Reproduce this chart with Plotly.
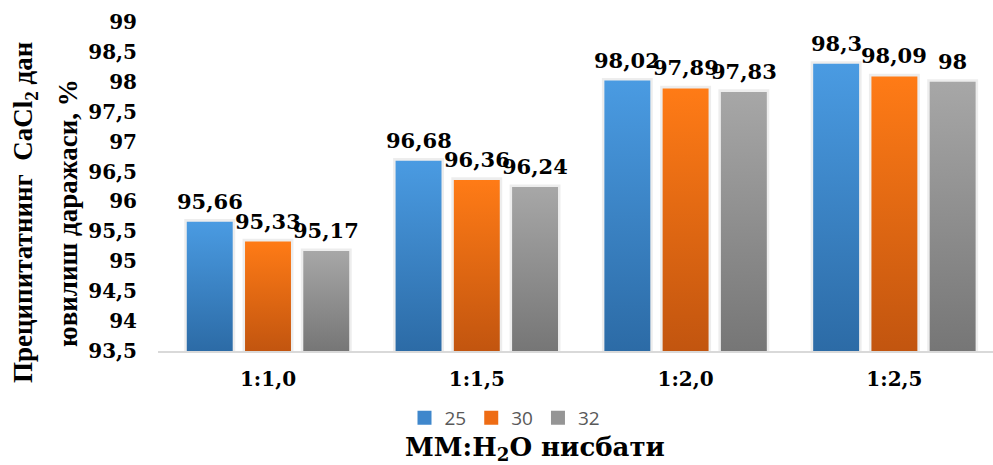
import plotly.graph_objects as go

# ---- data -------------------------------------------------------------
categories = ["1:1,0", "1:1,5", "1:2,0", "1:2,5"]
series_names = ["25", "30", "32"]
values_25 = [95.66, 96.68, 98.02, 98.30]
values_30 = [95.33, 96.36, 97.89, 98.09]
values_32 = [95.17, 96.24, 97.83, 98.00]
y_ticks = [93.5, 94, 94.5, 95, 95.5, 96, 96.5, 97, 97.5, 98, 98.5, 99]
y_tick_labels = ["93,5", "94", "94,5", "95", "95,5", "96", "96,5",
                 "97", "97,5", "98", "98,5", "99"]

series_values = [values_25, values_30, values_32]

# ---- styling ----------------------------------------------------------
# (bottom colour, top colour, legend colour) for each series
gradients = [
    ("#2C6BA6", "#4A9BE2", "#3F87CC"),
    ("#C2550F", "#FF7B16", "#EE6C14"),
    ("#767676", "#A7A7A7", "#959595"),
]
BASE = 93.5          # bars start at the bottom of the value axis
BAR_W = 0.22         # bar width in category units
SLOT = 0.279         # distance between bar centres inside a group
SERIF = "DejaVu Serif"
W, H = 993, 465
M_L, M_R, M_T, M_B = 158, 0, 22, 114


def fmt(v):
    return f"{v:g}".replace(".", ",")


fig = go.Figure()

n_series = len(series_values)
for k, (vals, name) in enumerate(zip(series_values, series_names)):
    dark, light, mid = gradients[k]
    offset = (k - (n_series - 1) / 2) * SLOT
    for i, v in enumerate(vals):
        xc = i + offset
        x0, x1 = xc - BAR_W / 2, xc + BAR_W / 2
        # soft shadow behind the bar
        sx, sy = 0.012, 0.045
        fig.add_trace(go.Scatter(
            x=[x0 - sx, x1 + sx, x1 + sx, x0 - sx, x0 - sx],
            y=[BASE, BASE, v + sy, v + sy, BASE],
            mode="lines", fill="toself",
            fillcolor="rgba(0,0,0,0.07)",
            line=dict(width=0, color="rgba(0,0,0,0)"),
            hoverinfo="skip", showlegend=False,
        ))
        # gradient-filled bar
        fig.add_trace(go.Scatter(
            x=[x0, x1, x1, x0, x0],
            y=[BASE, BASE, v, v, BASE],
            mode="lines", fill="toself",
            fillgradient=dict(type="vertical",
                              colorscale=[[0, dark], [1, light]]),
            line=dict(width=0, color="rgba(0,0,0,0)"),
            name=name, legendgroup=name,
            hovertemplate=f"{categories[i]}<br>{name}: {fmt(v)}<extra></extra>",
            showlegend=False,
        ))
        # value label above the bar
        fig.add_annotation(
            x=xc, y=v, xref="x", yref="y",
            text=fmt(v), showarrow=False,
            yanchor="bottom", yshift=6,
            font=dict(family=SERIF, size=21, color="#000000", weight="bold"),
        )
    # legend entry
    fig.add_trace(go.Scatter(
        x=[None], y=[None], mode="markers",
        marker=dict(symbol="square", size=14, color=mid),
        name=name, legendgroup=name, showlegend=True,
    ))

plot_w = W - M_L - M_R
cat_px = 208.8
x_start = -(268 - M_L) / cat_px
x_end = x_start + plot_w / cat_px

fig.update_xaxes(
    range=[x_start, x_end],
    tickmode="array",
    tickvals=list(range(len(categories))),
    ticktext=categories,
    showgrid=False, zeroline=False,
    showline=True, linecolor="#D9D9D9", linewidth=1.5,
    ticks="", ticklabelstandoff=9,
    tickfont=dict(family=SERIF, size=20, color="#000000", weight="bold"),
    fixedrange=True,
)
fig.update_yaxes(
    range=[93.5, 99],
    tickmode="array",
    tickvals=y_ticks,
    ticktext=y_tick_labels,
    showgrid=False, zeroline=False, showline=False,
    ticks="", ticklabelstandoff=20,
    tickfont=dict(family=SERIF, size=20, color="#000000", weight="bold"),
    fixedrange=True,
)

plot_h = H - M_T - M_B


def px_x(p):
    return (p - M_L) / plot_w


def px_y(p):
    return (H - M_B - p) / plot_h


# axis titles
fig.add_annotation(
    x=px_x(535), y=px_y(448), xref="paper", yref="paper",
    text="ММ:H<sub>2</sub>O нисбати", showarrow=False,
    xanchor="center", yanchor="middle",
    font=dict(family=SERIF, size=26, color="#000000", weight="bold"),
)
fig.add_annotation(
    x=px_x(25), y=px_y(213), xref="paper", yref="paper",
    text="Преципитатнинг  CaCl<sub>2</sub> дан", showarrow=False,
    textangle=-90, xanchor="center", yanchor="middle",
    font=dict(family="Liberation Serif", size=27, color="#000000", weight="bold"),
)
fig.add_annotation(
    x=px_x(68), y=px_y(213), xref="paper", yref="paper",
    text="ювилиш даражаси, %", showarrow=False,
    textangle=-90, xanchor="center", yanchor="middle",
    font=dict(family="Liberation Serif", size=27, color="#000000", weight="bold"),
)

fig.update_layout(
    width=W, height=H,
    margin=dict(l=M_L, r=M_R, t=M_T, b=M_B, autoexpand=False),
    paper_bgcolor="#FFFFFF", plot_bgcolor="#FFFFFF",
    showlegend=True,
    legend=dict(
        orientation="h", x=px_x(505), y=px_y(418),
        xanchor="center", yanchor="middle",
        font=dict(family="Open Sans", size=19, color="#595959"),
        bgcolor="rgba(0,0,0,0)",
    ),
)

fig.write_html("out.html")
